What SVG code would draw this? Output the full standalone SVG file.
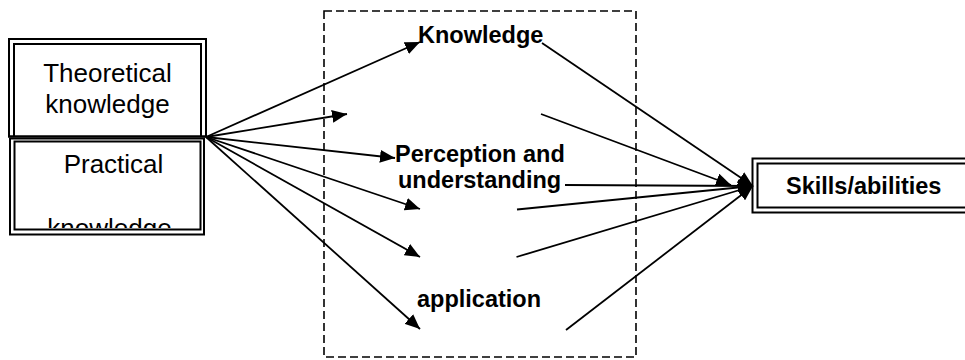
<svg xmlns="http://www.w3.org/2000/svg" width="965" height="360" viewBox="0 0 965 360">
<style>
.reg{font-family:"Liberation Sans",Arial,sans-serif;font-size:26px;fill:#000;text-anchor:middle}
.bold{font-family:"Liberation Sans",Arial,sans-serif;font-size:23.5px;font-weight:bold;fill:#000}
.box{fill:none;stroke:#000;stroke-width:2}
.ln{stroke:#000;stroke-width:1.8;fill:none;marker-end:url(#ah)}
</style>
<defs>
<marker id="ah" viewBox="0 0 15 13" refX="15" refY="6.5" markerWidth="15" markerHeight="13" markerUnits="userSpaceOnUse" orient="auto">
<path d="M0,0 L15,6.5 L0,13 Z" fill="#000"/>
</marker>
<clipPath id="clipPrac"><rect x="15" y="141" width="185" height="87"/></clipPath>
</defs>
<rect x="0" y="0" width="965" height="360" fill="#fff"/>
<g id="frame">
<rect x="324" y="11" width="312" height="346" fill="none" stroke="#000" stroke-width="1.6" stroke-dasharray="8,4"/>
</g>
<g id="theoretical">
<path class="box" d="M9,137 V39 H206 V137"/>
<path class="box" d="M14,137 V44 H201 V137"/>
<line x1="8" y1="136.5" x2="207" y2="136.5" stroke="#000" stroke-width="2.5"/>
<text class="reg" x="107.5" y="82">Theoretical</text>
<text class="reg" x="107.5" y="113">knowledge</text>
</g>
<g id="practical">
<rect class="box" x="10" y="138.5" width="194" height="96"/>
<rect class="box" x="14.5" y="141.5" width="186" height="88"/>
<text class="reg" x="113.5" y="173">Practical</text>
<text class="reg" x="109.5" y="237" clip-path="url(#clipPrac)">knowledge</text>
</g>
<g id="skills">
<rect class="box" x="752.5" y="158.5" width="230" height="54"/>
<rect class="box" x="757.5" y="163.5" width="230" height="44"/>
<text class="bold" x="786" y="194">Skills/abilities</text>
</g>
<g id="labels">
<text class="bold" x="418" y="43">Knowledge</text>
<text class="bold" x="395" y="161.5">Perception and</text>
<text class="bold" x="398" y="188">understanding</text>
<text class="bold" x="417" y="306.5">application</text>
</g>
<g id="connectors">
<line class="ln" x1="206" y1="137" x2="420" y2="42"/>
<line class="ln" x1="206" y1="137" x2="347" y2="114"/>
<line class="ln" x1="206" y1="137" x2="395" y2="158"/>
<line class="ln" x1="206" y1="137" x2="420" y2="209"/>
<line class="ln" x1="206" y1="137" x2="420" y2="257"/>
<line class="ln" x1="206" y1="137" x2="420" y2="329"/>
<line class="ln" x1="542" y1="43" x2="753" y2="186"/>
<line class="ln" x1="541" y1="114" x2="731" y2="185"/>
<line class="ln" x1="565" y1="185" x2="753" y2="186"/>
<line class="ln" x1="517" y1="209.5" x2="753" y2="186"/>
<line class="ln" x1="516.5" y1="257" x2="753" y2="186"/>
<line class="ln" x1="566" y1="330" x2="753" y2="186"/>
</g>
</svg>
